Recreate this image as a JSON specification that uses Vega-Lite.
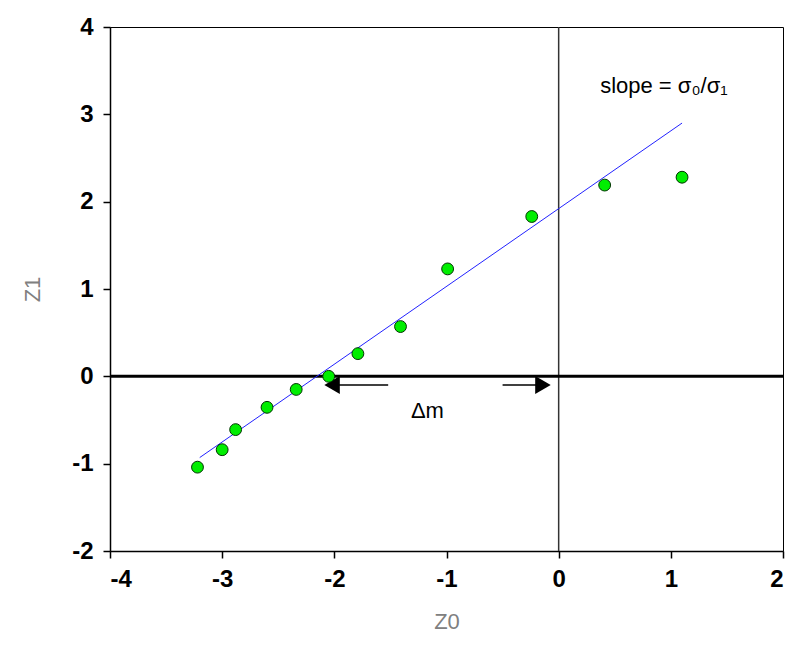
{
  "$schema": "https://vega.github.io/schema/vega-lite/v6.json",
  "width": 673,
  "height": 524,
  "autosize": {"type": "none"},
  "padding": {"left": 110, "top": 27, "right": 10, "bottom": 106},
  "background": "white",
  "config": {
    "view": {"stroke": "black", "strokeWidth": 1},
    "font": "Liberation Sans",
    "axis": {
      "domainColor": "black", "domainWidth": 1.5, "tickColor": "black", "tickSize": 7, "tickWidth": 1.5,
      "labelFont": "Liberation Sans", "labelFontSize": 24, "labelFontWeight": "bold", "labelColor": "black",
      "titleFont": "Liberation Sans", "titleFontSize": 22, "titleFontWeight": "normal", "titleColor": "#808080",
      "labelExpr": "datum.value + ''",
      "grid": false
    }
  },
  "datasets": {
    "pts": [
      {"z0": -3.22, "z1": -1.04},
      {"z0": -3.0, "z1": -0.84},
      {"z0": -2.88, "z1": -0.61},
      {"z0": -2.6, "z1": -0.355},
      {"z0": -2.34, "z1": -0.15},
      {"z0": -2.05, "z1": 0.0},
      {"z0": -1.79, "z1": 0.26},
      {"z0": -1.41, "z1": 0.57},
      {"z0": -0.99, "z1": 1.23},
      {"z0": -0.24, "z1": 1.83},
      {"z0": 0.41, "z1": 2.19},
      {"z0": 1.1, "z1": 2.28}
    ],
    "fit": [
      {"z0": -3.2, "z1": -0.93},
      {"z0": 1.1, "z1": 2.9}
    ],
    "arrows": [
      {"x1": -1.52, "x2": -2.0, "y": -0.1},
      {"x1": -0.5, "x2": -0.15, "y": -0.1}
    ],
    "heads": [
      {"x": -2.02, "y": -0.1, "shape": "triangle-left"},
      {"x": -0.14, "y": -0.1, "shape": "triangle-right"}
    ],
    "delta": [
      {"x": -1.17, "y": -0.4, "text": "Δm"}
    ],
    "slope": [
      {"x": 0.37, "y": 3.32, "text": "slope = σ₀/σ₁"}
    ]
  },
  "layer": [
    {
      "data": {"values": [{"v": 0}]},
      "mark": {"type": "rule", "color": "#333333", "strokeWidth": 1.5},
      "encoding": {"x": {"field": "v", "type": "quantitative", "scale": {"domain": [-4, 2]}}}
    },
    {
      "data": {"values": [{"v": 0}]},
      "mark": {"type": "rule", "color": "black", "strokeWidth": 3},
      "encoding": {"y": {"field": "v", "type": "quantitative", "scale": {"domain": [-2, 4]}}}
    },
    {
      "data": {"name": "fit"},
      "mark": {"type": "line", "color": "#2222ff", "strokeWidth": 1},
      "encoding": {
        "x": {"field": "z0", "type": "quantitative", "scale": {"domain": [-4, 2]}, "axis": {"values": [-4, -3, -2, -1, 0, 1, 2], "title": "Z0", "titlePadding": 20, "labelPadding": 9}},
        "y": {"field": "z1", "type": "quantitative", "scale": {"domain": [-2, 4]}, "axis": {"values": [-2, -1, 0, 1, 2, 3, 4], "title": "Z1", "titlePadding": 27, "labelPadding": 10}}
      }
    },
    {
      "data": {"name": "arrows"},
      "mark": {"type": "rule", "color": "black", "strokeWidth": 1.5},
      "encoding": {
        "x": {"field": "x1", "type": "quantitative"},
        "x2": {"field": "x2"},
        "y": {"field": "y", "type": "quantitative"}
      }
    },
    {
      "data": {"name": "heads"},
      "mark": {"type": "point", "filled": true, "color": "black", "size": 320, "opacity": 1},
      "encoding": {
        "x": {"field": "x", "type": "quantitative"},
        "y": {"field": "y", "type": "quantitative"},
        "shape": {"field": "shape", "type": "nominal", "scale": null, "legend": null}
      }
    },
    {
      "data": {"name": "pts"},
      "mark": {"type": "circle", "size": 140, "fill": "#00ee00", "stroke": "#003300", "strokeWidth": 1, "opacity": 1},
      "encoding": {
        "x": {"field": "z0", "type": "quantitative"},
        "y": {"field": "z1", "type": "quantitative"}
      }
    },
    {
      "data": {"name": "delta"},
      "mark": {"type": "text", "fontSize": 22, "color": "black", "baseline": "middle", "align": "center"},
      "encoding": {
        "x": {"field": "x", "type": "quantitative"},
        "y": {"field": "y", "type": "quantitative"},
        "text": {"field": "text"}
      }
    },
    {
      "data": {"name": "slope"},
      "mark": {"type": "text", "fontSize": 22, "color": "black", "baseline": "middle", "align": "left"},
      "encoding": {
        "x": {"field": "x", "type": "quantitative"},
        "y": {"field": "y", "type": "quantitative"},
        "text": {"field": "text"}
      }
    }
  ]
}
